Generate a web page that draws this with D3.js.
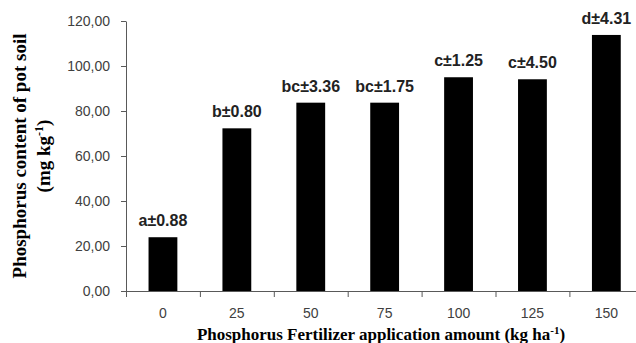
<!DOCTYPE html>
<html>
<head>
  <meta charset="UTF-8">
  <style>
    body { margin: 0; background: #fff; }
    svg { display: block; }
    .tick text { font: 14px "Liberation Sans", Arial, sans-serif; fill: #404040; }
    .bar { fill: #000; }
    .lbl { font: bold 16px "Liberation Sans", Arial, sans-serif; fill: #222; text-anchor: middle; }
    .title { font: bold 19px "Liberation Serif", "Times New Roman", serif; fill: #000; text-anchor: middle; }
  </style>
</head>
<body>
  <svg width="636" height="343"></svg>
  <script src="https://d3js.org/d3.v7.min.js"></script>
  <script>
    // data
    const categories = ['0', '25', '50', '75', '100', '125', '150'];
    const values = [23.9, 72.3, 83.7, 83.7, 95.0, 94.1, 113.8];
    const labels = ['a±0.88', 'b±0.80', 'bc±3.36', 'bc±1.75', 'c±1.25', 'c±4.50', 'd±4.31'];
    const yTicks = [0, 20, 40, 60, 80, 100, 120];

    const svg = d3.select('svg');
    const plotLeft = 126, plotTop = 21, plotBottom = 291;
    const step = 73.9;

    const x = d3.scaleBand()
      .domain(categories)
      .range([plotLeft, plotLeft + step * categories.length]);

    const y = d3.scaleLinear()
      .domain([0, 120])
      .range([plotBottom, plotTop]);

    const barW = x.bandwidth() * 0.39;
    const axisColor = '#595959';

    // y axis
    const yAxis = svg.append('g')
      .attr('transform', `translate(${plotLeft},0)`)
      .call(d3.axisLeft(y).tickValues(yTicks).tickSize(5).tickSizeOuter(0)
        .tickFormat(d => d.toFixed(2).replace('.', ',')));
    yAxis.selectAll('path, line').attr('stroke', axisColor);
    yAxis.selectAll('text').attr('x', -16);

    // x axis: labels under bars, ticks on band edges
    const xAxis = svg.append('g')
      .attr('transform', `translate(0,${plotBottom})`)
      .call(d3.axisBottom(x).tickSize(0).tickSizeOuter(0));
    xAxis.select('.domain').attr('stroke', axisColor);
    xAxis.selectAll('text').attr('dy', 24);

    svg.append('g')
      .selectAll('line')
      .data(categories)
      .join('line')
      .attr('x1', d => x(d) + 0.5)
      .attr('x2', d => x(d) + 0.5)
      .attr('y1', plotBottom)
      .attr('y2', plotBottom + 6)
      .attr('stroke', axisColor);

    // bars
    svg.append('g')
      .selectAll('rect')
      .data(categories)
      .join('rect')
      .attr('class', 'bar')
      .attr('x', d => x(d) + (x.bandwidth() - barW) / 2)
      .attr('width', barW)
      .attr('y', (d, i) => y(values[i]))
      .attr('height', (d, i) => plotBottom - y(values[i]));

    // letters and errors above bars
    svg.append('g')
      .selectAll('text')
      .data(categories)
      .join('text')
      .attr('class', 'lbl')
      .attr('x', d => x(d) + x.bandwidth() / 2)
      .attr('y', (d, i) => y(values[i]) - 11)
      .text((d, i) => labels[i]);

    // axis titles
    const xt = svg.append('text')
      .attr('class', 'title')
      .attr('x', 381)
      .attr('y', 340)
      .style('font-size', '17px');
    xt.append('tspan').text('Phosphorus Fertilizer application amount (kg ha');
    xt.append('tspan').attr('dy', -6).style('font-size', '11px').text('-1');
    xt.append('tspan').attr('dy', 6).text(')');

    const yt = svg.append('g').attr('transform', 'translate(0,156) rotate(-90)');
    yt.append('text')
      .attr('class', 'title')
      .attr('y', 26)
      .text('Phosphorus content of pot soil');
    const yt2 = yt.append('text')
      .attr('class', 'title')
      .attr('y', 50);
    yt2.append('tspan').text('(mg kg');
    yt2.append('tspan').attr('dy', -7).style('font-size', '12px').text('-1');
    yt2.append('tspan').attr('dy', 7).text(')');
  </script>
</body>
</html>
